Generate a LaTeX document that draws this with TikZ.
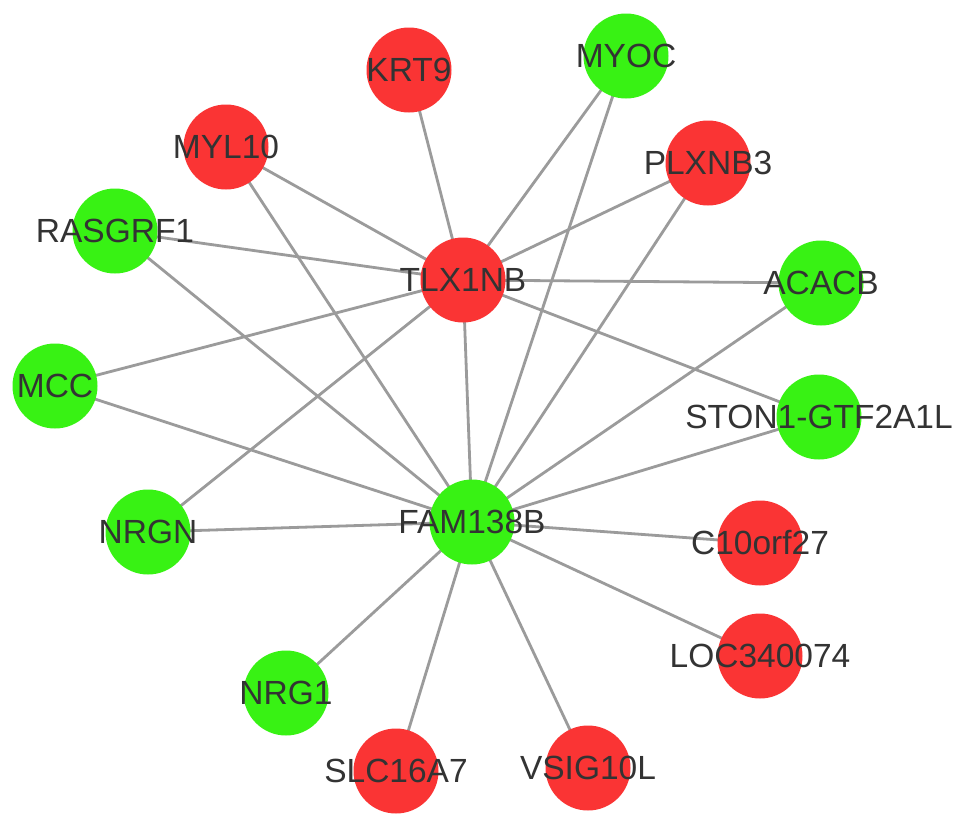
\documentclass[tikz,border=0pt]{standalone}
\usepackage{fontspec}
\setmainfont{Liberation Sans}
\usetikzlibrary{backgrounds}
\definecolor{nred}{RGB}{250,52,52}
\definecolor{ngreen}{RGB}{56,242,20}
\definecolor{edgegray}{RGB}{155,155,155}
\definecolor{labelgray}{RGB}{51,51,51}
\begin{document}
\begin{tikzpicture}[x=1pt,y=-1pt,
  gene/.style={circle, minimum size=85pt, inner sep=0pt, draw=none},
  glabel/.style={font=\fontsize{33.5}{36}\selectfont, text=labelgray, inner sep=0pt},
  up/.style={gene, fill=nred},
  down/.style={gene, fill=ngreen},
  link/.style={draw=edgegray, line width=2.8pt}]
\useasboundingbox (0,0) rectangle (969,827);

\node[up]   (krt9)   at (409,70)  [label={[glabel]center:KRT9}] {};
\node[down] (myoc)   at (626,56)  [label={[glabel]center:MYOC}] {};
\node[up]   (myl10)  at (226,147) [label={[glabel]center:MYL10}] {};
\node[up]   (plxnb3) at (708,163) [label={[glabel]center:PLXNB3}] {};
\node[down] (rasgrf1) at (115,231) [label={[glabel]center:RASGRF1}] {};
\node[up]   (tlx1nb) at (463,280) [label={[glabel]center:TLX1NB}] {};
\node[down] (acacb)  at (821,283) [label={[glabel]center:ACACB}] {};
\node[down] (mcc)    at (55,386)  [label={[glabel]center:MCC}] {};
\node[down] (ston1)  at (819,417) [label={[glabel]center:STON1-GTF2A1L}] {};
\node[down] (nrgn)   at (148,532) [label={[glabel]center:NRGN}] {};
\node[down] (fam138b) at (472,522) [label={[glabel]center:FAM138B}] {};
\node[up]   (c10orf27) at (760,543) [label={[glabel]center:C10orf27}] {};
\node[up]   (loc340074) at (760,656) [label={[glabel]center:LOC340074}] {};
\node[down] (nrg1)   at (286,693) [label={[glabel]center:NRG1}] {};
\node[up]   (slc16a7) at (396,771) [label={[glabel]center:SLC16A7}] {};
\node[up]   (vsig10l) at (588,768) [label={[glabel]center:VSIG10L}] {};

\begin{pgfonlayer}{background}
\fill[white] (0,0) rectangle (969,827);
\foreach \n in {krt9,myoc,myl10,plxnb3,rasgrf1,acacb,mcc,ston1,nrgn,fam138b}
  \draw[link] (tlx1nb.center) -- (\n.center);
\foreach \n in {myoc,myl10,plxnb3,rasgrf1,acacb,mcc,ston1,nrgn,c10orf27,loc340074,nrg1,slc16a7,vsig10l}
  \draw[link] (fam138b.center) -- (\n.center);
\end{pgfonlayer}
\end{tikzpicture}
\end{document}
